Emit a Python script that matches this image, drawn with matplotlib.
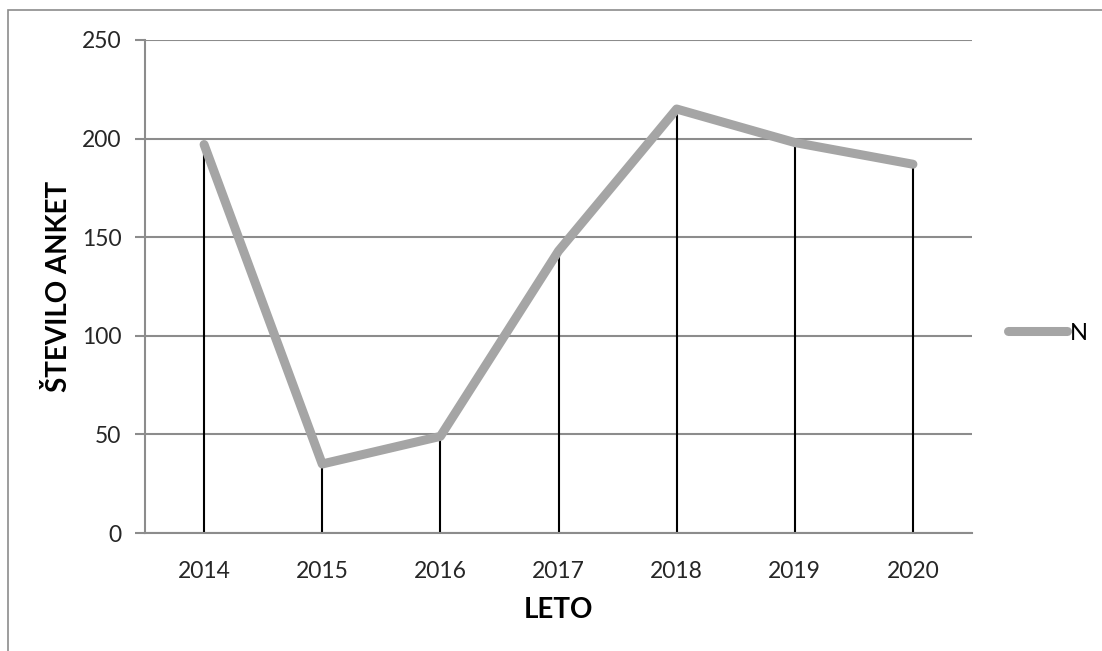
import matplotlib.pyplot as plt
from matplotlib.patches import Rectangle

# Number of surveys per year
years = ['2014', '2015', '2016', '2017', '2018', '2019', '2020']
counts = [197, 35, 49, 143, 215, 198, 187]
y_ticks = [0, 50, 100, 150, 200, 250]

plt.rcParams['font.family'] = ['Lato', 'DejaVu Sans']

fig = plt.figure(figsize=(11.02, 6.51), dpi=100)
ax = fig.add_axes([145 / 1102, 1 - 533 / 651, (972 - 145) / 1102, (533 - 40) / 651])

x = list(range(len(years)))
grid_col = '#8c8c8c'

# drop lines from each point down to zero
ax.vlines(x, 0, counts, colors='black', linewidth=1.5, zorder=2)
ax.plot(x, counts, color='#a5a5a5', linewidth=6.5, solid_capstyle='round',
        solid_joinstyle='round', label='N', zorder=3)

ax.set_xlim(-0.5, len(years) - 0.5)
ax.set_ylim(0, 250)
ax.set_yticks(y_ticks)
ax.set_xticks(x)
ax.set_xticklabels(years)
ax.yaxis.grid(True, color=grid_col, linewidth=1.5)
ax.set_axisbelow(True)

for s in ['top', 'right']:
    ax.spines[s].set_visible(False)
for s in ['left', 'bottom']:
    ax.spines[s].set_color(grid_col)
    ax.spines[s].set_linewidth(1.5)

ax.tick_params(axis='y', length=7, width=1.5, color=grid_col, pad=10,
               labelsize=16.5, labelcolor='#262626')
ax.tick_params(axis='x', length=0, pad=20, labelsize=16.5, labelcolor='#262626')

ax.set_xlabel('LETO', fontsize=20, fontweight='bold')
ax.set_ylabel('ŠTEVILO ANKET', fontsize=20, fontweight='bold')
ax.xaxis.set_label_coords(0.5, -0.13)
ax.yaxis.set_label_coords(-0.088, 0.5)

fig.legend(loc='center left', bbox_to_anchor=(1008 / 1102, 1 - 333 / 651),
           frameon=False, fontsize=17, handlelength=2.5, handletextpad=0.1,
           borderpad=0, borderaxespad=0)

# outer chart border
fig.add_artist(Rectangle((8 / 1102, -0.05), 1.2, 1 - 10 / 651 + 0.05,
                         transform=fig.transFigure, fill=False,
                         edgecolor='#8c8c8c', linewidth=1.2))

fig.savefig('out.png', dpi=100)
